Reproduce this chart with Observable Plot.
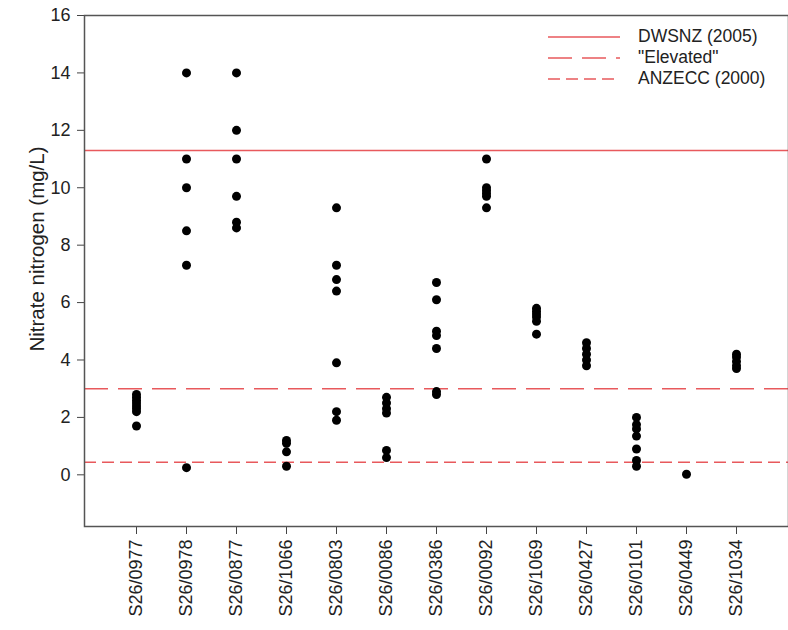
<!DOCTYPE html>
<html>
<head>
<meta charset="utf-8">
<script src="https://cdn.jsdelivr.net/npm/d3@7"></script>
<script src="https://cdn.jsdelivr.net/npm/@observablehq/plot@0.6"></script>
<style>
  body { margin: 0; background: #fff; font-family: "Liberation Sans", Arial, sans-serif; }
  #wrap { position: relative; width: 788px; height: 630px; }
  #legend { position: absolute; left: 548px; top: 26px; font-size: 17.5px; color: #222; }
  #legend .row { display: flex; align-items: center; height: 21px; }
  #legend svg { margin-right: 18px; }
</style>
</head>
<body>
<div id="wrap"><div id="legend"></div></div>
<script>
const sites = ["S26/0977","S26/0978","S26/0877","S26/1066","S26/0803","S26/0086","S26/0386","S26/0092","S26/1069","S26/0427","S26/0101","S26/0449","S26/1034"];
const values = [
  [2.8, 2.7, 2.6, 2.5, 2.4, 2.3, 2.2, 1.7],
  [14, 11, 10, 8.5, 7.3, 0.25],
  [14, 12, 11, 9.7, 8.8, 8.6],
  [1.2, 1.1, 0.8, 0.3],
  [9.3, 7.3, 6.8, 6.4, 3.9, 2.2, 1.9],
  [2.7, 2.5, 2.3, 2.15, 0.85, 0.6],
  [6.7, 6.1, 5.0, 4.85, 4.4, 2.9, 2.8],
  [11, 10, 9.9, 9.8, 9.7, 9.3],
  [5.8, 5.7, 5.6, 5.5, 5.35, 4.9],
  [4.6, 4.4, 4.2, 4.0, 3.8],
  [2.0, 1.75, 1.6, 1.35, 0.9, 0.5, 0.3],
  [0.02],
  [4.2, 4.1, 3.95, 3.8, 3.7]
];
const guideNames = ["DWSNZ (2005)", "\"Elevated\"", "ANZECC (2000)"];
const guideValues = [11.3, 3.0, 0.44];
const guideDash = [null, "24,10", "12,6"];
const yTicks = [0, 2, 4, 6, 8, 10, 12, 14, 16];
const guideColor = "#e8595c";

const points = sites.flatMap((s, i) => values[i].map(v => ({site: s, value: v})));
const guides = guideNames.map((n, i) => ({name: n, value: guideValues[i], dash: guideDash[i]}));

const chart = Plot.plot({
  width: 788,
  height: 630,
  marginTop: 15,
  marginBottom: 104,
  marginLeft: 84,
  marginRight: 0,
  style: {fontFamily: "Liberation Sans, Arial, sans-serif", fontSize: "14px", color: "#222", background: "#fff"},
  x: {type: "point", domain: sites, padding: 1},
  y: {domain: [-1.8, 16]},
  marks: [
    ...guides.map(g => Plot.ruleY([g], {y: "value", stroke: guideColor, strokeWidth: 1.6, strokeDasharray: g.dash})),
    Plot.dot(points, {x: "site", y: "value", r: 4.5, fill: "#000", stroke: null}),
    Plot.axisY({ticks: yTicks, tickSize: 7, tickPadding: 7, fontSize: 18, stroke: "#444",
      label: "Nitrate nitrogen (mg/L)", labelAnchor: "center", labelArrow: "none", labelOffset: 55}),
    Plot.axisX({tickSize: 8, tickPadding: 5, tickRotate: -90, fontSize: 18, stroke: "#444", label: null}),
    Plot.frame({stroke: "#555", strokeWidth: 1.5})
  ]
});
chart.querySelectorAll("[aria-label='y-axis label'] text").forEach(t => {
  t.setAttribute("font-size", "20.5px");
  const tr = t.getAttribute("transform") || "";
  const m = tr.match(/translate\(([-\d.]+),\s*([-\d.]+)\)/);
  if (m) t.setAttribute("transform", tr.replace(m[0], `translate(${m[1]},${+m[2] - 22})`));
});
document.getElementById("wrap").prepend(chart);

const legend = d3.select("#legend");
guides.forEach(g => {
  const row = legend.append("div").attr("class", "row");
  const svg = row.append("svg").attr("width", 72).attr("height", 6);
  svg.append("line").attr("x1", 0).attr("x2", 72).attr("y1", 3).attr("y2", 3)
    .attr("stroke", guideColor).attr("stroke-width", 1.6)
    .attr("stroke-dasharray", g.dash);
  row.append("span").text(g.name);
});
</script>
</body>
</html>
